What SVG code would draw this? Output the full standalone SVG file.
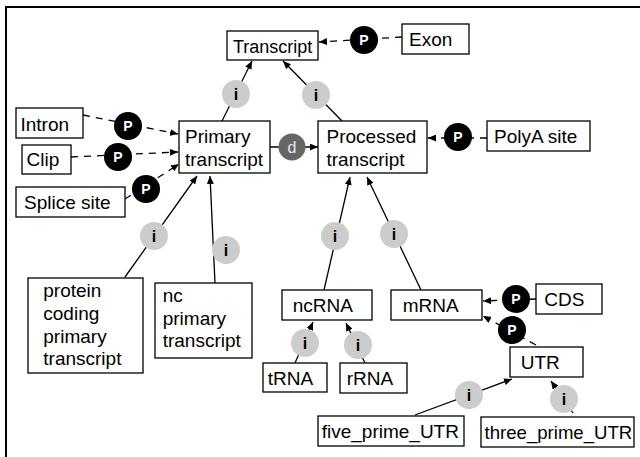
<svg xmlns="http://www.w3.org/2000/svg" width="640" height="457" viewBox="0 0 640 457">
<style>
text{font-family:"Liberation Sans",Arial,Helvetica,sans-serif;font-size:19px;fill:#000}
.box{fill:#fff;stroke:#000;stroke-width:1.3}
.c{stroke:#000;stroke-width:1.3;fill:none}
.d{stroke-dasharray:7,6}
.ic{fill:#cccccc}
.pc{fill:#000}
.dc{fill:#666666}
.it{font-size:16px;font-weight:bold;text-anchor:middle}
.pt{font-size:14px;font-weight:bold;fill:#fff;text-anchor:middle}
.dt{font-size:16px;fill:#e8e8e8;text-anchor:middle}
</style>
<defs>
<marker id="a" markerUnits="userSpaceOnUse" markerWidth="8" markerHeight="7" refX="8" refY="3.5" orient="auto"><path d="M0,0 L8,3.5 L0,7 z" fill="#000"/></marker>
</defs>
<rect x="6" y="7" width="640" height="460" fill="#fff" stroke="#000" stroke-width="2"/>
<g id="connectors">
<line class="c" x1="222" y1="121" x2="252" y2="61" marker-end="url(#a)"/>
<line class="c" x1="342" y1="121" x2="283" y2="61" marker-end="url(#a)"/>
<line class="c d" x1="402" y1="37" x2="319" y2="42" marker-end="url(#a)"/>
<line class="c d" x1="83" y1="115" x2="178" y2="134" marker-end="url(#a)"/>
<line class="c d" x1="71" y1="157" x2="178" y2="152" marker-end="url(#a)"/>
<line class="c d" x1="125" y1="199" x2="179" y2="164" marker-end="url(#a)"/>
<line class="c" x1="270" y1="147" x2="318" y2="147" marker-end="url(#a)"/>
<line class="c d" x1="487" y1="138" x2="428" y2="138" marker-end="url(#a)"/>
<line class="c" x1="125" y1="277" x2="197" y2="176" marker-end="url(#a)"/>
<line class="c" x1="215" y1="283" x2="210" y2="176" marker-end="url(#a)"/>
<line class="c" x1="324" y1="290" x2="350" y2="177" marker-end="url(#a)"/>
<line class="c" x1="421" y1="290" x2="367" y2="177" marker-end="url(#a)"/>
<line class="c" x1="295" y1="363" x2="313" y2="322" marker-end="url(#a)"/>
<line class="c" x1="365" y1="363" x2="346" y2="323" marker-end="url(#a)"/>
<line class="c d" x1="536" y1="299" x2="483" y2="301" marker-end="url(#a)"/>
<line class="c d" x1="536" y1="345" x2="483" y2="316" marker-end="url(#a)"/>
<line class="c" x1="415" y1="415" x2="512" y2="379" marker-end="url(#a)"/>
<line class="c" x1="573" y1="413" x2="551" y2="381" marker-end="url(#a)"/>
</g>
<g id="rel-i1"><circle class="ic" cx="236" cy="94" r="14"/><text class="it" x="236" y="100">i</text></g>
<g id="rel-i2"><circle class="ic" cx="316" cy="95" r="14"/><text class="it" x="316" y="101">i</text></g>
<g id="rel-p-exon"><circle class="pc" cx="364" cy="40" r="14"/><text class="pt" x="364" y="45">P</text></g>
<g id="rel-p-intron"><circle class="pc" cx="128" cy="126" r="14"/><text class="pt" x="128" y="131">P</text></g>
<g id="rel-p-clip"><circle class="pc" cx="118" cy="157" r="14"/><text class="pt" x="118" y="162">P</text></g>
<g id="rel-p-splice"><circle class="pc" cx="146" cy="189" r="14"/><text class="pt" x="146" y="194">P</text></g>
<g id="rel-d"><circle class="dc" cx="292" cy="147" r="13.5"/><text class="dt" x="292" y="153">d</text></g>
<g id="rel-p-polya"><circle class="pc" cx="458" cy="137" r="14"/><text class="pt" x="458" y="142">P</text></g>
<g id="rel-i3"><circle class="ic" cx="154" cy="236" r="14"/><text class="it" x="154" y="242">i</text></g>
<g id="rel-i4"><circle class="ic" cx="226" cy="250" r="14"/><text class="it" x="226" y="256">i</text></g>
<g id="rel-i5"><circle class="ic" cx="335" cy="236" r="14"/><text class="it" x="335" y="242">i</text></g>
<g id="rel-i6"><circle class="ic" cx="394" cy="234" r="14"/><text class="it" x="394" y="240">i</text></g>
<g id="rel-i7"><circle class="ic" cx="305" cy="343" r="14"/><text class="it" x="305" y="349">i</text></g>
<g id="rel-i8"><circle class="ic" cx="358" cy="345" r="14"/><text class="it" x="358" y="351">i</text></g>
<g id="rel-p-cds"><circle class="pc" cx="516" cy="299" r="14"/><text class="pt" x="516" y="304">P</text></g>
<g id="rel-p-utr"><circle class="pc" cx="512" cy="330" r="14"/><text class="pt" x="512" y="335">P</text></g>
<g id="rel-i9"><circle class="ic" cx="469" cy="395" r="14"/><text class="it" x="469" y="401">i</text></g>
<g id="rel-i10"><circle class="ic" cx="564" cy="399" r="14"/><text class="it" x="564" y="405">i</text></g>
<g id="transcript"><rect class="box" x="227" y="31" width="91" height="29"/><text x="233" y="53" style="font-size:18px">Transcript</text></g>
<g id="exon"><rect class="box" x="402" y="24" width="67" height="30"/><text x="409" y="46">Exon</text></g>
<g id="intron"><rect class="box" x="16" y="108" width="67" height="30"/><text x="20.5" y="130.5">Intron</text></g>
<g id="clip"><rect class="box" x="22" y="145" width="49" height="29"/><text x="26.5" y="165.5">Clip</text></g>
<g id="splice-site"><rect class="box" x="16" y="187" width="109" height="30"/><text x="24" y="208.5">Splice site</text></g>
<g id="primary-transcript"><rect class="box" x="179" y="121" width="91" height="52"/><text x="185" y="143.3">Primary</text><text x="185" y="166">transcript</text></g>
<g id="processed-transcript"><rect class="box" x="318" y="121" width="109" height="52"/><text x="326.5" y="143.3">Processed</text><text x="326.5" y="166">transcript</text></g>
<g id="polya-site"><rect class="box" x="487" y="121" width="103" height="30"/><text x="494" y="142.7">PolyA site</text></g>
<g id="protein-coding"><rect class="box" x="28" y="278" width="115" height="95"/><text x="43.3" y="296.7">protein</text><text x="43.3" y="319.5">coding</text><text x="43.3" y="342.5">primary</text><text x="43.3" y="365">transcript</text></g>
<g id="nc-primary"><rect class="box" x="155" y="283" width="97" height="75"/><text x="162.7" y="301.7">nc</text><text x="162.7" y="324.5">primary</text><text x="162.7" y="347.3">transcript</text></g>
<g id="ncrna"><rect class="box" x="282" y="290" width="90" height="30"/><text x="292.7" y="311.5">ncRNA</text></g>
<g id="mrna"><rect class="box" x="391" y="290" width="91" height="30"/><text x="402.7" y="311.5">mRNA</text></g>
<g id="trna"><rect class="box" x="263" y="363" width="64" height="29"/><text x="267.7" y="384.5">tRNA</text></g>
<g id="rrna"><rect class="box" x="340" y="363" width="67" height="30"/><text x="346.7" y="385">rRNA</text></g>
<g id="cds"><rect class="box" x="536" y="284" width="66" height="30"/><text x="544.3" y="306">CDS</text></g>
<g id="utr"><rect class="box" x="510" y="347" width="73" height="30"/><text x="520.7" y="369">UTR</text></g>
<g id="five-prime-utr"><rect class="box" x="318" y="416" width="146" height="30"/><text x="321.7" y="437.5">five_prime_UTR</text></g>
<g id="three-prime-utr"><rect class="box" x="481" y="417" width="153" height="30"/><text x="484.5" y="438.5" style="font-size:18.6px">three_prime_UTR</text></g>
</svg>
